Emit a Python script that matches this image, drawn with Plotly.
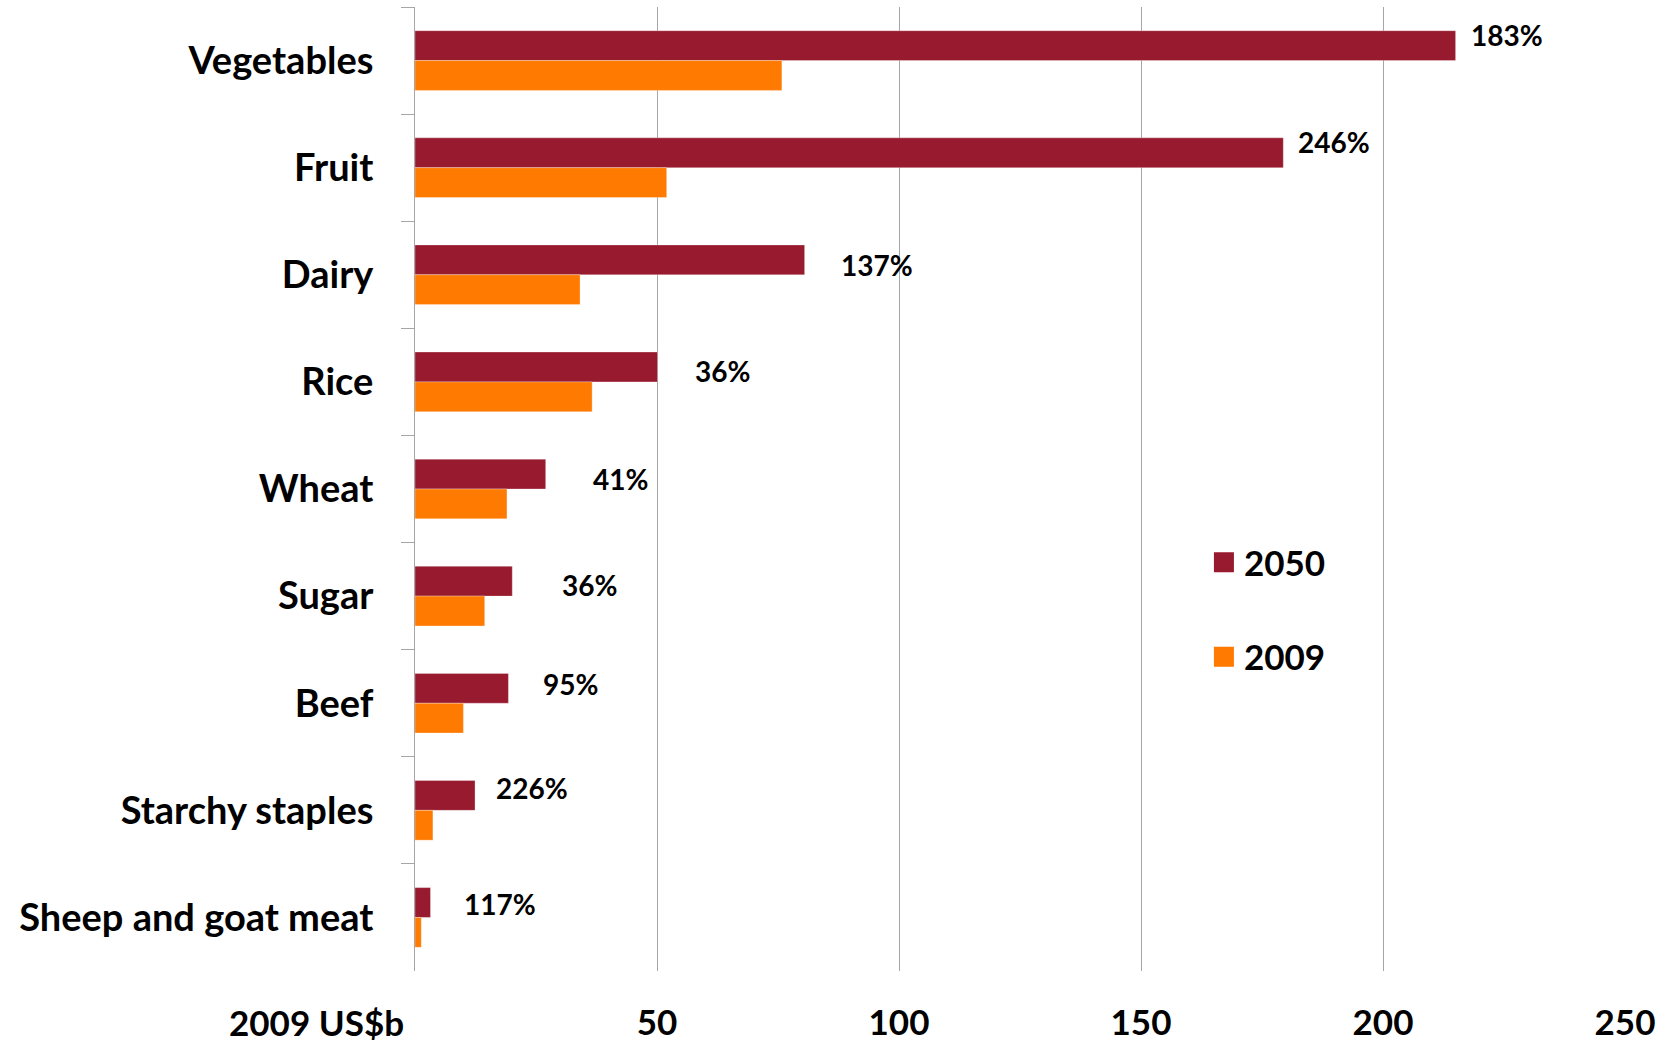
import plotly.graph_objects as go

categories = ["Vegetables", "Fruit", "Dairy", "Rice", "Wheat", "Sugar", "Beef",
              "Starchy staples", "Sheep and goat meat"]
values_2050 = [215.0, 179.4, 80.5, 50.1, 27.0, 20.1, 19.3, 12.4, 3.2]
values_2009 = [75.8, 52.0, 34.1, 36.6, 19.0, 14.4, 10.0, 3.7, 1.3]
growth_labels = ["183%", "246%", "137%", "36%", "41%", "36%", "95%", "226%", "117%"]
series_names = ["2050", "2009"]
tick_values = [50, 100, 150, 200, 250]
tick_labels = ["50", "100", "150", "200", "250"]

# label placement styling (pixel offsets from the end of the 2050 bar)
label_xshift = [13, 13, 34, 36, 45, 48, 33, 19, 32]
label_yshift = [11, 11, -5, -4, -5, -4, 4, 7, -2]

FONT = "Lato"
COLORS = ["#971A2F", "#FF7A00"]

fig = go.Figure()
for name, vals, col in zip(series_names, [values_2050, values_2009], COLORS):
    fig.add_trace(go.Bar(y=categories, x=vals, orientation="h", name=name,
                         marker=dict(color=col, line=dict(color="rgba(255,255,255,0.6)", width=0.5)),
                         showlegend=False))
# legend entries (larger square swatches than the default bar icon)
for i, (name, col) in enumerate(zip(series_names, COLORS)):
    fig.add_trace(go.Scatter(x=[None], y=[None], mode="markers", name=name,
                             marker=dict(symbol="square", size=16, color=col,
                                         line=dict(color=col, width=4)),
                             legendgroup=f"g{i}", showlegend=True, hoverinfo="skip"))

for cat, v, lab, dx, dy in zip(categories, values_2050, growth_labels, label_xshift, label_yshift):
    fig.add_annotation(x=v, y=cat, text=lab, showarrow=False, xanchor="left",
                       xshift=dx, yshift=dy + 15,
                       font=dict(family=FONT, size=28, color="black", weight="bold"))

fig.add_annotation(x=-0.081, y=-0.053, xref="paper", yref="paper", text="2009 US$b",
                   showarrow=False, xanchor="center", yanchor="middle",
                   font=dict(family=FONT, size=35, color="black", weight="bold"))

fig.update_layout(
    width=1674, height=1042,
    margin=dict(l=415, r=49, t=7, b=71),
    paper_bgcolor="white", plot_bgcolor="white",
    barmode="group", bargap=0.443, bargroupgap=0,
    showlegend=True,
    legend=dict(x=0.652, y=0.375, xanchor="left", yanchor="middle",
                font=dict(family=FONT, size=35, color="black", weight="bold"),
                tracegroupgap=46, bgcolor="rgba(0,0,0,0)", itemsizing="trace"),
    xaxis=dict(range=[0, 250], tickvals=tick_values, ticktext=tick_labels,
               showgrid=True, gridcolor="#A6A6A6", gridwidth=1, zeroline=False,
               showline=False, ticks="", ticklabelstandoff=28, automargin=False,
               tickfont=dict(family=FONT, size=35, color="black", weight="bold")),
    yaxis=dict(autorange="reversed", showline=True, linecolor="#A6A6A6", linewidth=1,
               ticks="outside", tickson="boundaries", ticklen=13, tickcolor="#A6A6A6",
               ticklabelstandoff=33, showgrid=False, automargin=False,
               tickfont=dict(family=FONT, size=38, color="black", weight="bold")),
)

fig.write_html("out.html", config={"displayModeBar": False},
               post_script="document.body.style.margin='0';")
